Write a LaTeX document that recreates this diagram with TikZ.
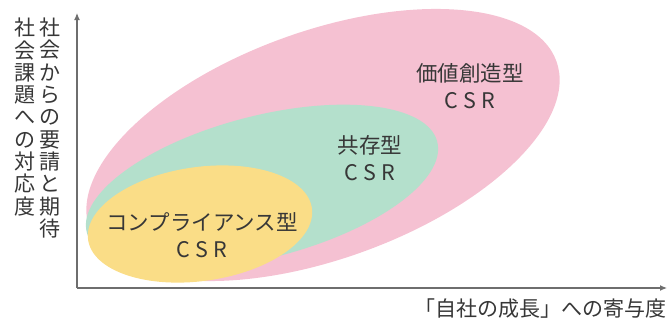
\documentclass[tikz,border=0pt]{standalone}
\usepackage{fontspec}
\setmainfont{Noto Sans CJK JP}
\usetikzlibrary{arrows.meta}
\definecolor{pinkc}{RGB}{245,193,210}
\definecolor{greenc}{RGB}{180,224,204}
\definecolor{yellowc}{RGB}{250,221,135}
\definecolor{txt}{RGB}{55,55,55}
\definecolor{axisc}{RGB}{110,110,110}
\newcommand{\csrtext}{C\hspace{5pt}S\hspace{5pt}R}
\begin{document}
\begin{tikzpicture}[x=1pt,y=-1pt,
  lbl/.style={text=txt, font=\fontsize{21.5pt}{27.5pt}\selectfont, align=center, inner sep=0pt},
  vlbl/.style={text=txt, font=\fontsize{21pt}{22.3pt}\selectfont, align=center, inner sep=0pt},
  axisline/.style={draw=axisc, line width=1.2pt, -{Latex[length=7pt,width=6pt]}}]
\useasboundingbox (0,0) rectangle (668,322);
% ellipses
\fill[pinkc, rotate around={19.7:(323,145)}] (323,145) ellipse [x radius=248pt, y radius=114pt];
\fill[greenc, rotate around={14.5:(262,187)}] (262,187) ellipse [x radius=181pt, y radius=71pt];
\fill[yellowc, rotate around={8:(200,224)}] (200,224) ellipse [x radius=113pt, y radius=57pt];
% axes
\coordinate (O) at (77,288);
\coordinate (Ytop) at (77,13);
\coordinate (Xend) at (667,288);
\draw[axisline] (O) -- (Ytop);
\draw[axisline] (O) -- (Xend);
% labels
\node[lbl] (value) at (470,86) {価値創造型\\\csrtext};
\node[lbl] (coex) at (370,158) {共存型\\\csrtext};
\node[lbl] (comp) at (202,235) {コンプライアンス型\\\csrtext};
% axis labels
\node[vlbl] (yl1) at (50,128) {社\\会\\か\\ら\\の\\要\\請\\と\\期\\待};
\node[vlbl] (yl2) at (25,117) {社\\会\\課\\題\\へ\\の\\対\\応\\度};
\node[text=txt, font=\fontsize{21pt}{24pt}\selectfont, inner sep=0pt, anchor=east] (xl) at (667,309) {「自社の成長」への寄与度};
\end{tikzpicture}
\end{document}
